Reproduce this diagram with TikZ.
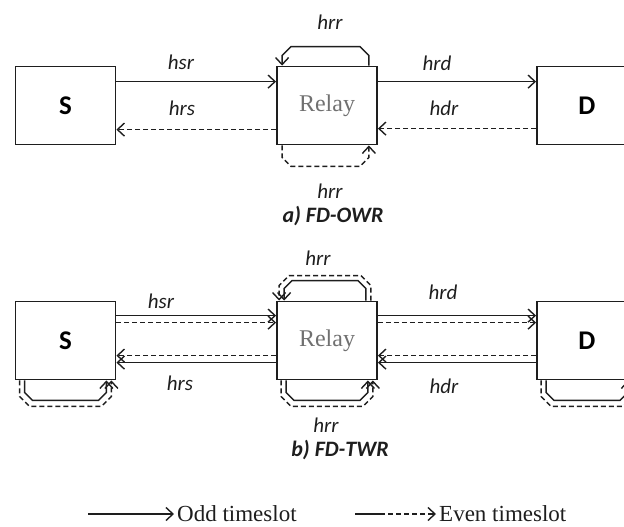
\documentclass[tikz,border=0pt]{standalone}
\usepackage{fontspec}
\setmainfont{Liberation Serif}
\newfontfamily\carlito{Carlito}
\usepackage{tikz}
\usetikzlibrary{arrows.meta, positioning, calc}

\definecolor{ink}{HTML}{1E1E1E}
\definecolor{relaygray}{HTML}{707070}

\tikzset{
    nodebox/.style={draw=ink, line width=1.8pt, minimum width=100pt, minimum height=78pt, inner sep=0pt},
    oddlink/.style={draw=ink, line width=1.4pt, -{Straight Barb[length=7pt,width=13pt]}},
    evenlink/.style={oddlink, dash pattern=on 5pt off 3pt},
    chan/.style={text=ink, font=\carlito\itshape\fontsize{21}{21}\selectfont},
    caption/.style={text=ink, font=\carlito\bfseries\itshape\fontsize{22}{22}\selectfont},
    legend/.style={text=ink, anchor=west, inner sep=3pt, font=\fontsize{23}{23}\selectfont}
}

\begin{document}
\begin{tikzpicture}[x=1pt, y=1pt]
        \clip (0,0) rectangle (624,-527);

        % a) FD-OWR
        \node[nodebox, font=\carlito\bfseries\fontsize{27}{27}\selectfont] (S1) at (65.5,-105.5) {S};
        \node[nodebox, text=relaygray, font=\fontsize{24}{24}\selectfont] (R1) at (327,-105.5) {Relay};
        \node[nodebox, font=\carlito\bfseries\fontsize{27}{27}\selectfont] (D1) at (587,-105.5) {D};

        \draw[oddlink] ([yshift=-16pt]S1.north east) -- ([yshift=-16pt]R1.north west);
        \draw[evenlink] ([yshift=-64pt]R1.north west) -- ([yshift=-64pt]S1.north east);
        \draw[oddlink] ([yshift=-16pt]R1.north east) -- ([yshift=-16pt]D1.north west);
        \draw[evenlink] ([yshift=-63pt]D1.north west) -- ([yshift=-63pt]R1.north east);

        % self loops of the relay
        \draw[oddlink] ([xshift=-9pt]R1.north east) -- ++(0,10) -- ++(-9,9)
            -- ([xshift=15pt,yshift=19pt]R1.north west) -- ++(-9,-9) -- ([xshift=6pt]R1.north west);
        \draw[evenlink] ([xshift=6pt]R1.south west) -- ++(0,-12) -- ++(9,-9)
            -- ([xshift=-18pt,yshift=-21pt]R1.south east) -- ++(9,9) -- ([xshift=-9pt]R1.south east);

        \node[chan] (hrrA) at (330,-22) {hrr};
        \node[chan] (hsrA) at (181,-62) {hsr};
        \node[chan] (hrsA) at (182,-108) {hrs};
        \node[chan] (hrdA) at (437,-63) {hrd};
        \node[chan] (hdrA) at (444,-108) {hdr};
        \node[chan] (hrrA2) at (330,-191) {hrr};
        \node[caption] (capA) at (333,-216) {a) FD-OWR};

        % b) FD-TWR
        \node[nodebox, font=\carlito\bfseries\fontsize{27}{27}\selectfont] (S2) at (65.5,-340.5) {S};
        \node[nodebox, text=relaygray, font=\fontsize{24}{24}\selectfont] (R2) at (327,-340.5) {Relay};
        \node[nodebox, font=\carlito\bfseries\fontsize{27}{27}\selectfont] (D2) at (587,-340.5) {D};

        \foreach \a/\b in {S2/R2, R2/D2} {
            \draw[oddlink] ([yshift=-15pt]\a.north east) -- ([yshift=-15pt]\b.north west);
            \draw[evenlink] ([yshift=-22pt]\a.north east) -- ([yshift=-22pt]\b.north west);
            \draw[evenlink] ([yshift=-55pt]\b.north west) -- ([yshift=-55pt]\a.north east);
            \draw[oddlink] ([yshift=-62pt]\b.north west) -- ([yshift=-62pt]\a.north east);
        }

        % loops under every node
        \foreach \n in {S2, R2, D2} {
            \draw[evenlink] ([xshift=5pt]\n.south west) -- ++(0,-16) -- ++(10,-10)
                -- ([xshift=-15pt,yshift=-26pt]\n.south east) -- ++(10,10) -- ([xshift=-5pt]\n.south east);
            \draw[oddlink] ([xshift=10pt]\n.south west) -- ++(0,-12) -- ++(8,-8)
                -- ([xshift=-18pt,yshift=-20pt]\n.south east) -- ++(8,8) -- ([xshift=-10pt]\n.south east);
        }

        % loop over the relay
        \draw[evenlink] ([xshift=-7pt]R2.north east) -- ++(0,15) -- ++(-10,10)
            -- ([xshift=13pt,yshift=25pt]R2.north west) -- ++(-10,-10) -- ([xshift=3pt]R2.north west);
        \draw[oddlink] ([xshift=-12pt]R2.north east) -- ++(0,12) -- ++(-8,8)
            -- ([xshift=16pt,yshift=20pt]R2.north west) -- ++(-8,-8) -- ([xshift=8pt]R2.north west);

        \node[chan] (hrrB) at (318,-258) {hrr};
        \node[chan] (hsrB) at (161,-301) {hsr};
        \node[chan] (hrdB) at (443,-292) {hrd};
        \node[chan] (hrsB) at (180,-383) {hrs};
        \node[chan] (hdrB) at (444,-386) {hdr};
        \node[chan] (hrrB2) at (326,-425) {hrr};
        \node[caption] (capB) at (340,-450) {b) FD-TWR};

        % legend
        \coordinate (oddstart) at (88,-514);
        \node[legend] (oddtxt) at (174,-514) {Odd timeslot};
        \draw[oddlink] (oddstart) -- (oddtxt.west);
        \coordinate (evenstart) at (355,-514);
        \node[legend] (eventxt) at (436,-514) {Even timeslot};
        \draw[oddlink, dash pattern=on 30pt off 3pt on 5pt off 3pt on 5pt off 3pt on 5pt off 3pt on 5pt off 3pt on 5pt off 3pt]
            (evenstart) -- (eventxt.west);
\end{tikzpicture}
\end{document}
